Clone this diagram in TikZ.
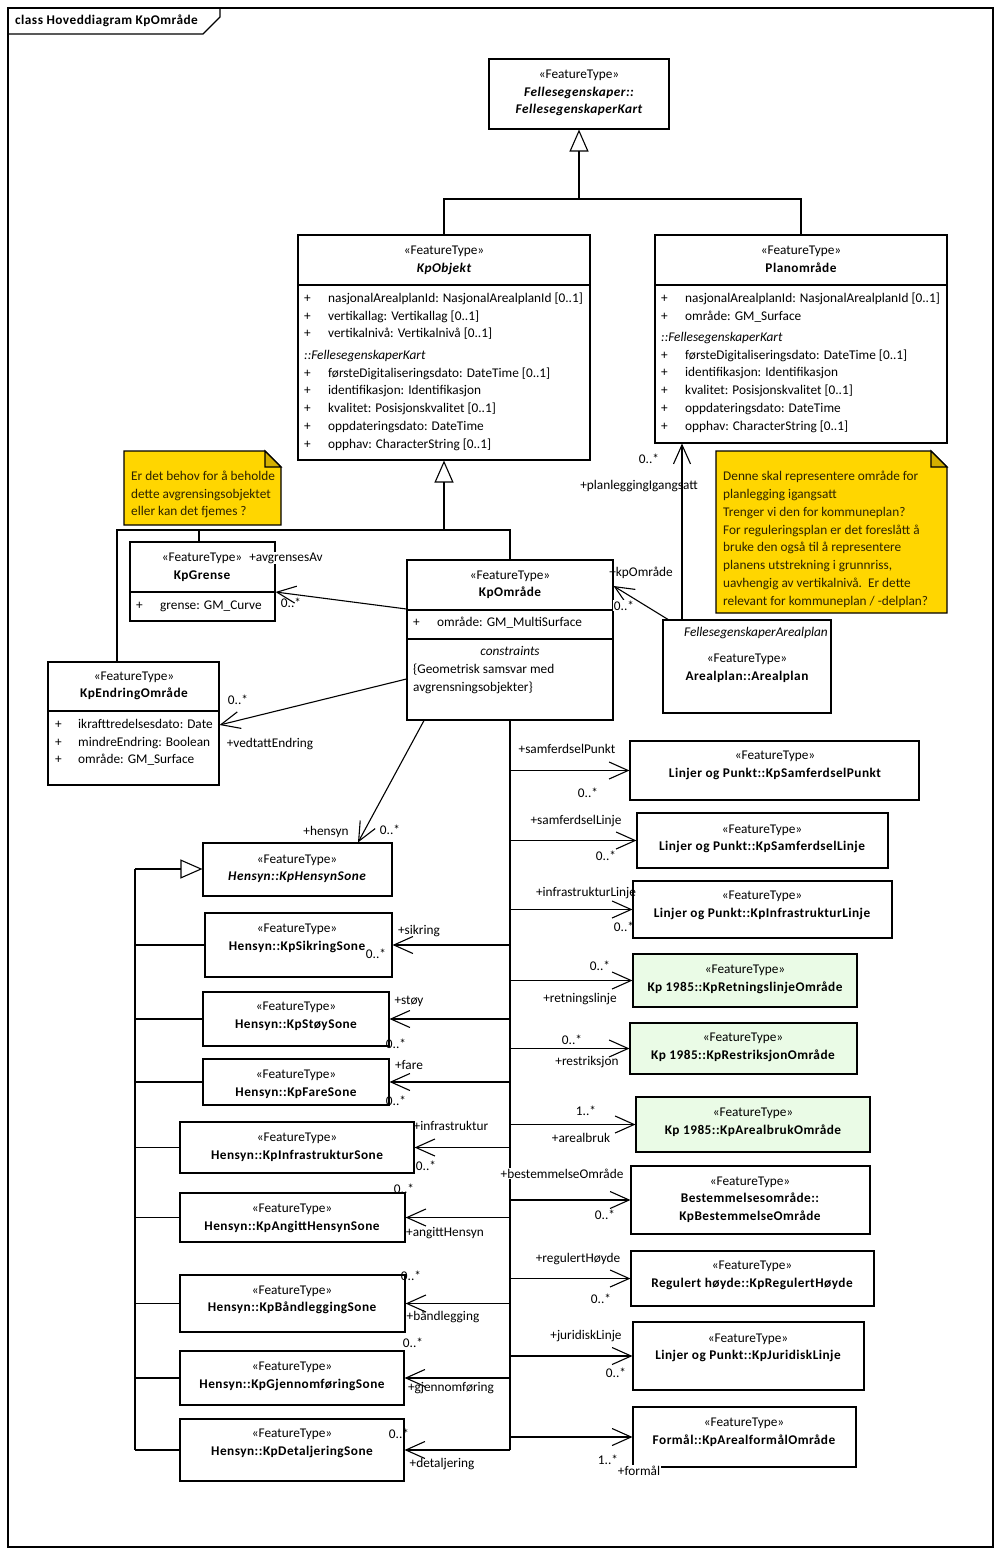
\documentclass[tikz,border=0pt]{standalone}
\usepackage{fontspec}
\setmainfont{Carlito}[BoldFeatures={LetterSpace=3.5},BoldItalicFeatures={LetterSpace=3.5}]
\usetikzlibrary{arrows.meta,fit}
\definecolor{notey}{RGB}{255,214,0}
\definecolor{notefold}{RGB}{212,176,0}
\definecolor{kpgreen}{RGB}{234,251,230}
\definecolor{notetxt}{RGB}{45,35,0}
\newcommand\fz{\fontsize{13.3}{17.7}\selectfont}
\begin{document}
\begin{tikzpicture}[x=1pt,y=-1pt,
 ln/.style={line width=1.1pt},
 box/.style={draw, line width=1.1pt, inner sep=0pt, fill=white},
 gbox/.style={box, fill=kpgreen},
 txt/.style={inner sep=0pt, anchor=mid, font=\fz},
 txtb/.style={txt, font=\fz\bfseries},
 txtbi/.style={txt, font=\fz\bfseries\itshape},
 txti/.style={txt, font=\fz\itshape},
 lbl/.style={inner sep=0.6pt, anchor=mid, font=\fz},
 wlbl/.style={lbl, fill=white},
 blk/.style={inner sep=0pt, anchor=north west, align=left, font=\fz},
 assoc/.style={line width=1.1pt, -{Straight Barb[length=19pt,width=17pt]}},
 gen/.style={line width=1.1pt, -{Triangle[open,length=22pt,width=19pt]}},
 notep/.style={draw=black, line width=1.1pt, fill=notey},
]
\useasboundingbox (0,0) rectangle (1000,1554);
\fill[white] (0,0) rectangle (1000,1554);

% frame
\draw[ln] (8,8) rectangle (993,1547);
\draw[ln] (8,34) -- (203,34) -- (220,17) -- (220,8);
\node[txtb, anchor=west] (title) at (15,21) {class Hoveddiagram KpOmråde};

% ---------- boxes ----------
\node[box, fit={(489,59)(669,129)}] (fk) {};
\node[txt] (fk1) at (579,76) {«FeatureType»};
\node[txtbi] (fk2) at (579,94) {Fellesegenskaper::};
\node[txtbi] (fk3) at (579,111) {FellesegenskaperKart};

\node[box, fit={(298,235)(590,460)}] (kpobj) {};
\node[txt] (ko1) at (444,252) {«FeatureType»};
\node[txtbi] (ko2) at (444,270) {KpObjekt};
\draw[ln] (kpobj.west |- 0,285) -- (kpobj.east |- 0,285);
\node[blk] (ko3) at (304,290) {\makebox[24pt][l]{+}nasjonalArealplanId: NasjonalArealplanId [0..1]\strut\\
\makebox[24pt][l]{+}vertikallag: Vertikallag [0..1]\strut\\
\makebox[24pt][l]{+}vertikalnivå: Vertikalnivå [0..1]\strut};
\node[blk] (ko4) at (304,347) {\textit{::FellesegenskaperKart}\strut\\
\makebox[24pt][l]{+}førsteDigitaliseringsdato: DateTime [0..1]\strut\\
\makebox[24pt][l]{+}identifikasjon: Identifikasjon\strut\\
\makebox[24pt][l]{+}kvalitet: Posisjonskvalitet [0..1]\strut\\
\makebox[24pt][l]{+}oppdateringsdato: DateTime\strut\\
\makebox[24pt][l]{+}opphav: CharacterString [0..1]\strut};

\node[box, fit={(655,235)(947,443)}] (plan) {};
\node[txt] (pl1) at (801,252) {«FeatureType»};
\node[txtb] (pl2) at (801,270) {Planområde};
\draw[ln] (plan.west |- 0,285) -- (plan.east |- 0,285);
\node[blk] (pl3) at (661,290) {\makebox[24pt][l]{+}nasjonalArealplanId: NasjonalArealplanId [0..1]\strut\\
\makebox[24pt][l]{+}område: GM\_Surface\strut};
\node[blk] (pl4) at (661,329) {\textit{::FellesegenskaperKart}\strut\\
\makebox[24pt][l]{+}førsteDigitaliseringsdato: DateTime [0..1]\strut\\
\makebox[24pt][l]{+}identifikasjon: Identifikasjon\strut\\
\makebox[24pt][l]{+}kvalitet: Posisjonskvalitet [0..1]\strut\\
\makebox[24pt][l]{+}oppdateringsdato: DateTime\strut\\
\makebox[24pt][l]{+}opphav: CharacterString [0..1]\strut};

\node[box, fit={(130,542)(275,621)}] (kpgr) {};
\node[txt] (kg1) at (202,559) {«FeatureType»};
\node[txtb] (kg2) at (202,577) {KpGrense};
\draw[ln] (kpgr.west |- 0,592) -- (kpgr.east |- 0,592);
\node[blk] (kg3) at (136,597) {\makebox[24pt][l]{+}grense: GM\_Curve\strut};

\node[box, fit={(407,560)(613,720)}] (kpomr) {};
\node[txt] (kp1) at (510,577) {«FeatureType»};
\node[txtb] (kp2) at (510,594) {KpOmråde};
\draw[ln] (kpomr.west |- 0,610) -- (kpomr.east |- 0,610);
\node[blk] (kp3) at (413,614) {\makebox[24pt][l]{+}område: GM\_MultiSurface\strut};
\draw[ln] (kpomr.west |- 0,639) -- (kpomr.east |- 0,639);
\node[txti] (kp4) at (510,653) {constraints};
\node[blk] (kp5) at (413,661) {\{Geometrisk samsvar med\strut\\ avgrensningsobjekter\}\strut};

\node[box, fit={(48,662)(219,785)}] (kpend) {};
\node[txt] (ke1) at (134,678) {«FeatureType»};
\node[txtb] (ke2) at (134,695) {KpEndringOmråde};
\draw[ln] (kpend.west |- 0,711) -- (kpend.east |- 0,711);
\node[blk] (ke3) at (55,716) {\makebox[23pt][l]{+}ikrafttredelsesdato: Date\strut\\
\makebox[23pt][l]{+}mindreEndring: Boolean\strut\\
\makebox[23pt][l]{+}område: GM\_Surface\strut};

\node[box, fit={(663,620)(831,713)}] (arp) {};
\node[txti, anchor=mid east] (ap0) at (828,634) {FellesegenskaperArealplan};
\node[txt] (ap1) at (747,660) {«FeatureType»};
\node[txtb] (ap2) at (747,678) {Arealplan::Arealplan};

% notes
\draw[notep] (124,451) -- (265,451) -- (281,467) -- (281,525) -- (124,525) -- cycle;
\draw[line width=1.1pt, fill=notefold] (265,451) -- (265,467) -- (281,467) -- cycle;
\node[blk, text=notetxt] (n1) at (131,468) {Er det behov for å beholde\strut\\ dette avgrensingsobjektet\strut\\ eller kan det fjemes ?\strut};
\draw[notep] (716,451) -- (931,451) -- (947,467) -- (947,613) -- (716,613) -- cycle;
\draw[line width=1.1pt, fill=notefold] (931,451) -- (931,467) -- (947,467) -- cycle;
\node[blk, text=notetxt, font=\fontsize{13.3}{17.8}\selectfont] (n2) at (723,468) {Denne skal representere område for\strut\\
planlegging igangsatt\strut\\
Trenger vi den for kommuneplan?\strut\\
For reguleringsplan er det foreslått å\strut\\
bruke den også til å representere\strut\\
planens utstrekning i grunnriss,\strut\\
uavhengig av vertikalnivå.\ \ Er dette\strut\\
relevant for kommuneplan / -delplan?\strut};

% Hensyn boxes
\node[box, fit={(203,843)(392,896)}] (hens) {};
\node[txt] (h1) at (297,861) {«FeatureType»};
\node[txtbi] (h2) at (297,878) {Hensyn::KpHensynSone};
\node[box, fit={(205,913)(392,977)}] (sik) {};
\node[txt] (s1) at (297,930) {«FeatureType»};
\node[txtb] (s2) at (297,948) {Hensyn::KpSikringSone};
\node[box, fit={(203,992)(389,1046)}] (stoy) {};
\node[txt] (st1) at (296,1008) {«FeatureType»};
\node[txtb] (st2) at (296,1026) {Hensyn::KpStøySone};
\node[box, fit={(203,1059)(389,1105)}] (fare) {};
\node[txt] (f1) at (296,1076) {«FeatureType»};
\node[txtb] (f2) at (296,1094) {Hensyn::KpFareSone};
\node[box, fit={(180,1122)(414,1173)}] (infs) {};
\node[txt] (i1) at (297,1139) {«FeatureType»};
\node[txtb] (i2) at (297,1157) {Hensyn::KpInfrastrukturSone};
\node[box, fit={(180,1193)(405,1242)}] (ang) {};
\node[txt] (a1) at (292,1210) {«FeatureType»};
\node[txtb] (a2) at (292,1228) {Hensyn::KpAngittHensynSone};
\node[box, fit={(180,1275)(405,1332)}] (band) {};
\node[txt] (b1) at (292,1292) {«FeatureType»};
\node[txtb] (b2) at (292,1309) {Hensyn::KpBåndleggingSone};
\node[box, fit={(180,1351)(404,1405)}] (gjen) {};
\node[txt] (g1t) at (292,1368) {«FeatureType»};
\node[txtb] (g2t) at (292,1386) {Hensyn::KpGjennomføringSone};
\node[box, fit={(180,1419)(404,1481)}] (det) {};
\node[txt] (d1) at (292,1435) {«FeatureType»};
\node[txtb] (d2) at (292,1453) {Hensyn::KpDetaljeringSone};

% right boxes
\node[box, fit={(630,741)(919,800)}] (sfp) {};
\node[txt] (r1a) at (775,757) {«FeatureType»};
\node[txtb] (r1b) at (775,775) {Linjer og Punkt::KpSamferdselPunkt};
\node[box, fit={(637,813)(888,868)}] (sfl) {};
\node[txt] (r2a) at (762,831) {«FeatureType»};
\node[txtb] (r2b) at (762,848) {Linjer og Punkt::KpSamferdselLinje};
\node[box, fit={(633,881)(892,938)}] (infl) {};
\node[txt] (r3a) at (762,897) {«FeatureType»};
\node[txtb] (r3b) at (762,915) {Linjer og Punkt::KpInfrastrukturLinje};
\node[gbox, fit={(633,954)(857,1007)}] (retn) {};
\node[txt] (r4a) at (745,971) {«FeatureType»};
\node[txtb] (r4b) at (745,989) {Kp 1985::KpRetningslinjeOmråde};
\node[gbox, fit={(630,1023)(857,1074)}] (restr) {};
\node[txt] (r5a) at (743,1039) {«FeatureType»};
\node[txtb] (r5b) at (743,1057) {Kp 1985::KpRestriksjonOmråde};
\node[gbox, fit={(636,1097)(870,1152)}] (arb) {};
\node[txt] (r6a) at (753,1114) {«FeatureType»};
\node[txtb] (r6b) at (753,1132) {Kp 1985::KpArealbrukOmråde};
\node[box, fit={(631,1166)(870,1234)}] (best) {};
\node[txt] (r7a) at (750,1183) {«FeatureType»};
\node[txtb] (r7b) at (750,1200) {Bestemmelsesområde::};
\node[txtb] (r7c) at (750,1218) {KpBestemmelseOmråde};
\node[box, fit={(631,1251)(874,1306)}] (reg) {};
\node[txt] (r8a) at (752,1267) {«FeatureType»};
\node[txtb] (r8b) at (752,1285) {Regulert høyde::KpRegulertHøyde};
\node[box, fit={(633,1322)(864,1390)}] (jur) {};
\node[txt] (r9a) at (748,1340) {«FeatureType»};
\node[txtb] (r9b) at (748,1357) {Linjer og Punkt::KpJuridiskLinje};
\node[box, fit={(633,1407)(856,1467)}] (form) {};
\node[txt] (r10a) at (744,1424) {«FeatureType»};
\node[txtb] (r10b) at (744,1442) {Formål::KpArealformålOmråde};

% ---------- connectors ----------
\coordinate (j1) at (579,199);
\draw[ln] (kpobj.north) |- (j1);
\draw[ln] (plan.north) |- (j1);
\draw[gen] (j1) -- (fk.south);

\coordinate (j2) at (444,530);
\draw[gen] (j2) -- (kpobj.south);
\draw[ln] (kpomr.north) |- (j2);
\draw[ln] (kpend.north -| 117,0) |- (j2);
\draw[ln] (kpgr.north -| 199,0) -- (199,530);

\draw[assoc] (kpomr.west |- 0,609) -- (kpgr.east |- 0,592);
\draw[assoc] (kpomr.west |- 0,679) -- (kpend.east |- 0,725);
\draw[assoc] (arp.north -| 682,0) -- (plan.south -| 682,0);
\draw[assoc] (arp.north -| 668,0) -- (kpomr.east |- 0,586);
\draw[assoc] (kpomr.south -| 424,0) -- (hens.north -| 358,0);

% trunk
\coordinate (tb) at (kpomr.south |- det.east);
\draw[ln] (kpomr.south) -- (tb);
\foreach \b in {sfp,sfl,infl,retn,restr,arb,best,reg,jur,form}
  \draw[assoc] (tb |- \b.west) -- (\b.west);
\foreach \b in {sik,stoy,fare,infs,ang,band,gjen,det}
  \draw[assoc] (tb |- \b.east) -- (\b.east);

% hensyn generalization
\coordinate (hg) at (135,869);
\draw[gen] (hg) -- (hens.west |- hg);
\draw[ln] (hg) -- (hg |- det.west);
\foreach \b in {sik,stoy,fare,infs,ang,band,gjen,det}
  \draw[ln] (hg |- \b.west) -- (\b.west);

% ---------- labels ----------
\node[wlbl] (L1) at (286,559) {+avgrensesAv};
\node[lbl] (L2) at (291,605) {0..*};
\node[lbl] (L3) at (238,702) {0..*};
\node[lbl] (L4) at (270,745) {+vedtattEndring};
\node[lbl] (L5) at (649,461) {0..*};
\node[lbl] (L6) at (639,487) {+planleggingIgangsatt};
\node[lbl] (L7) at (641,574) {+kpOmråde};
\node[wlbl] (L8) at (624,608) {0..*};
\node[lbl] (L9) at (326,833) {+hensyn};
\node[lbl] (L10) at (390,832) {0..*};

\node[lbl] (R1) at (567,751) {+samferdselPunkt};
\node[lbl] (R2) at (588,795) {0..*};
\node[lbl] (R3) at (576,822) {+samferdselLinje};
\node[lbl] (R4) at (606,858) {0..*};
\node[lbl] (R5) at (586,894) {+infrastrukturLinje};
\node[lbl] (R6) at (624,929) {0..*};
\node[lbl] (R7) at (600,968) {0..*};
\node[lbl] (R8) at (580,1000) {+retningslinje};
\node[wlbl] (R9) at (572,1042) {0..*};
\node[lbl] (R10) at (587,1063) {+restriksjon};
\node[lbl] (R11) at (586,1113) {1..*};
\node[lbl] (R12) at (581,1140) {+arealbruk};
\node[wlbl] (R13) at (562,1176) {+bestemmelseOmråde};
\node[lbl] (R14) at (605,1217) {0..*};
\node[lbl] (R15) at (578,1260) {+regulertHøyde};
\node[lbl] (R16) at (601,1301) {0..*};
\node[lbl] (R17) at (586,1337) {+juridiskLinje};
\node[lbl] (R18) at (616,1375) {0..*};
\node[lbl] (R19) at (608,1462) {1..*};
\node[wlbl] (R20) at (639,1473) {+formål};

\node[lbl] (H1) at (419,932) {+sikring};
\node[lbl] (H2) at (376,956) {0..*};
\node[lbl] (H3) at (409,1002) {+støy};
\node[lbl] (H4) at (396,1046) {0..*};
\node[lbl] (H5) at (409,1067) {+fare};
\node[lbl] (H6) at (396,1103) {0..*};
\node[lbl] (H7) at (451,1128) {+infrastruktur};
\node[lbl] (H8) at (426,1168) {0..*};
\node[lbl] (H9) at (404,1191) {0..*};
\node[lbl] (H10) at (445,1234) {+angittHensyn};
\node[lbl] (H11) at (411,1278) {0..*};
\node[lbl] (H12) at (443,1318) {+båndlegging};
\node[lbl] (H13) at (413,1345) {0..*};
\node[lbl] (H14) at (451,1389) {+gjennomføring};
\node[lbl] (H15) at (399,1436) {0..*};
\node[lbl] (H16) at (442,1465) {+detaljering};
\end{tikzpicture}
\end{document}
